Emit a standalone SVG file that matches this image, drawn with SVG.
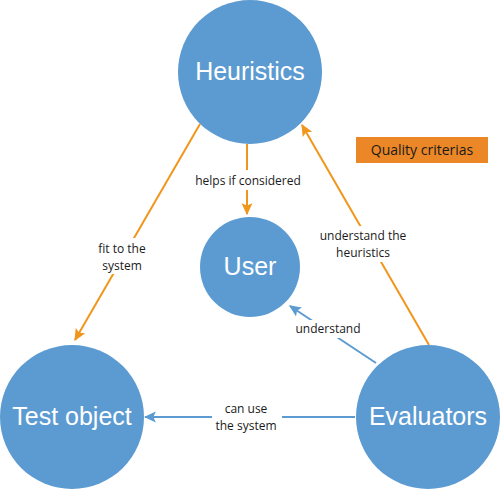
<svg xmlns="http://www.w3.org/2000/svg" width="501" height="490" viewBox="0 0 501 490">
<style>
.node{fill:#5C9BD1}
.ntext{fill:#fff;font-family:"Liberation Sans",Arial,sans-serif;font-size:25px;text-anchor:middle}
.lbl{fill:#1a1a1a;font-family:"Open Sans","Liberation Sans",sans-serif;font-size:12px;text-anchor:middle}
.or{stroke:#F0961C;stroke-width:2;fill:none}
.bl{stroke:#5C9BD1;stroke-width:2;fill:none}
.bg{fill:#fff}
</style>
<defs>
<marker id="ao" markerUnits="userSpaceOnUse" markerWidth="12" markerHeight="12" viewBox="0 0 10 10" refX="9" refY="5" orient="auto">
<path d="M0,0.5 L10,5 L0,9.5 L2,5 Z" fill="#F0961C"/>
</marker>
<marker id="ab" markerUnits="userSpaceOnUse" markerWidth="12" markerHeight="12" viewBox="0 0 10 10" refX="9" refY="5" orient="auto">
<path d="M0,0.5 L10,5 L0,9.5 L2,5 Z" fill="#5C9BD1"/>
</marker>
</defs>
<rect width="501" height="490" fill="#fff"/>
<g id="connectors">
<line class="or" x1="247" y1="144" x2="247" y2="214" marker-end="url(#ao)"/>
<line class="or" x1="200" y1="124" x2="75" y2="340" marker-end="url(#ao)"/>
<line class="or" x1="429" y1="345" x2="302" y2="125" marker-end="url(#ao)"/>
<line class="bl" x1="376" y1="363" x2="290" y2="306" marker-end="url(#ab)"/>
<line class="bl" x1="355" y1="417" x2="145" y2="417" marker-end="url(#ab)"/>
<rect class="bg" x="192" y="170" width="112" height="20"/>
<text class="lbl" x="248" y="185">helps if considered</text>
<rect class="bg" x="92" y="238" width="60" height="36"/>
<text class="lbl" x="122" y="253">fit to the</text>
<text class="lbl" x="122" y="270">system</text>
<rect class="bg" x="318" y="226" width="90" height="36"/>
<text class="lbl" x="363" y="240">understand the</text>
<text class="lbl" x="363" y="257">heuristics</text>
<rect class="bg" x="292" y="320" width="72" height="18"/>
<text class="lbl" x="328" y="333">understand</text>
<rect class="bg" x="212" y="400" width="70" height="36"/>
<text class="lbl" x="246" y="413">can use</text>
<text class="lbl" x="246" y="430">the system</text>
</g>
<g id="heuristics">
<circle class="node" cx="250" cy="72" r="72"/>
<text class="ntext" x="250" y="80">Heuristics</text>
</g>
<g id="user">
<circle class="node" cx="250" cy="267" r="50"/>
<text class="ntext" x="250" y="275">User</text>
</g>
<g id="test-object">
<circle class="node" cx="72" cy="417" r="72"/>
<text class="ntext" x="72" y="425">Test object</text>
</g>
<g id="evaluators">
<circle class="node" cx="428" cy="417" r="72"/>
<text class="ntext" x="428" y="425">Evaluators</text>
</g>
<g id="quality-criterias">
<rect x="356" y="137" width="132" height="26" fill="#EB8727"/>
<text x="422" y="155" style="fill:#1a1a1a;font-family:'Open Sans','Liberation Sans',sans-serif;font-size:14px;text-anchor:middle">Quality criterias</text>
</g>
</svg>
